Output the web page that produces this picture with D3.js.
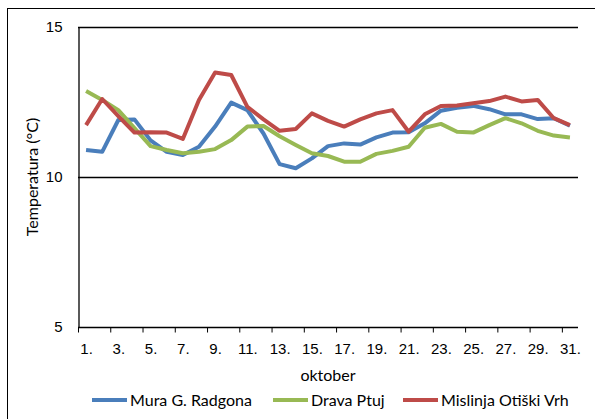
<!DOCTYPE html>
<html>
<head>
<meta charset="utf-8">
<script src="https://cdn.jsdelivr.net/npm/d3@7"></script>
<style>
  body { margin: 0; background: #fff; }
  svg { display: block; font-family: Lato, "Open Sans", sans-serif; }
</style>
</head>
<body>
<script>
"use strict"

/* dnevi v oktobru */
const dnevi = d3.range(1, 32);
/* povprečne dnevne temperature (°C) */
const mura = [10.9, 10.84, 11.9, 11.92, 11.22, 10.84, 10.73, 11.01, 11.68, 12.48,
    12.23, 11.45, 10.43, 10.29, 10.62, 11.03, 11.12, 11.08, 11.32, 11.48,
    11.49, 11.79, 12.21, 12.31, 12.37, 12.26, 12.09, 12.09, 11.93, 11.96, 11.71];
const drava = [12.87, 12.57, 12.23, 11.63, 11.03, 10.9, 10.79, 10.84, 10.93, 11.23,
    11.68, 11.7, 11.36, 11.07, 10.79, 10.7, 10.51, 10.51, 10.77, 10.87,
    11.01, 11.64, 11.77, 11.51, 11.48, 11.73, 11.96, 11.79, 11.54, 11.38, 11.32];
const mislinja = [11.73, 12.6, 12.03, 11.48, 11.49, 11.48, 11.27, 12.57, 13.48, 13.4,
    12.34, 11.92, 11.54, 11.6, 12.12, 11.87, 11.68, 11.92, 12.12, 12.23,
    11.51, 12.09, 12.37, 12.38, 12.46, 12.53, 12.68, 12.52, 12.57, 11.96, 11.73];
const imenaSerij = ["Mura G. Radgona", "Drava Ptuj", "Mislinja Otiški Vrh"];
const barve = ["#4a7ebb", "#98b954", "#be4b48"];
const yTicks = [5, 10, 15];

const serije = [mura, drava, mislinja].map(function (v, i) {
    return { ime: imenaSerij[i], barva: barve[i], vrednosti: v };
});

const grafico = { larghezza: 595, altezza: 419 };
const plot = { levo: 78, desno: 578, zgoraj: 27, spodaj: 327 };

const svg = d3.select("body").append("svg")
    .attr("width", grafico.larghezza)
    .attr("height", grafico.altezza);

/* okvir grafa */
svg.append("rect")
    .attr("x", 7.5).attr("y", 8.5)
    .attr("width", 620).attr("height", 440)
    .attr("fill", "none").attr("stroke", "#000").attr("stroke-width", 1);

const x = d3.scaleLinear().domain([0.5, 31.5]).range([plot.levo, plot.desno]);
const y = d3.scaleLinear().domain([5, 15]).range([plot.spodaj, plot.zgoraj]);

/* mreža */
svg.append("g").selectAll("line")
    .data(yTicks.filter(function (d) { return d > 5 }))
    .enter().append("line")
    .attr("x1", plot.levo).attr("x2", plot.desno)
    .attr("y1", function (d) { return Math.round(y(d)) + 0.5 })
    .attr("y2", function (d) { return Math.round(y(d)) + 0.5 })
    .attr("stroke", "#000").attr("stroke-width", 1.3);

/* os y */
const osY = svg.append("g")
    .attr("transform", "translate(" + (plot.levo + 0.5) + ",0)")
    .call(d3.axisLeft(y).tickValues(yTicks).tickSize(0).tickPadding(16));
osY.select(".domain").attr("stroke", "#000").attr("stroke-width", 1.3);
osY.selectAll("text").attr("font-size", 15).attr("fill", "#000");

/* os x: črtice na mejah kategorij */
const osX = svg.append("g")
    .attr("transform", "translate(0," + (plot.spodaj + 0.5) + ")")
    .call(d3.axisBottom(x).tickValues(d3.range(0.5, 31, 2)).tickSize(5).tickFormat(""));
osX.select(".domain").attr("stroke", "#000").attr("stroke-width", 1.3)
    .attr("d", "M" + plot.levo + ",0H" + plot.desno);
osX.selectAll(".tick line").attr("stroke", "#000");

const oznakeX = svg.append("g")
    .attr("transform", "translate(0," + (plot.spodaj + 0.5) + ")")
    .call(d3.axisBottom(x).tickValues(dnevi.filter(function (d) { return d % 2 == 1 }))
        .tickSize(0).tickPadding(16).tickFormat(function (d) { return d + "." }));
oznakeX.select(".domain").remove();
oznakeX.selectAll("text").attr("font-size", 15).attr("fill", "#000");

/* naslova osi */
svg.append("text")
    .attr("transform", "translate(38," + y(10) + ") rotate(-90)")
    .attr("text-anchor", "middle")
    .attr("font-size", 16)
    .text("Temperatura (°C)");
svg.append("text")
    .attr("x", (plot.levo + plot.desno) / 2)
    .attr("y", 381)
    .attr("text-anchor", "middle")
    .attr("font-size", 16)
    .text("oktober");

/* črte */
const crta = d3.line()
    .x(function (d, i) { return x(dnevi[i]) })
    .y(function (d) { return y(d) });

svg.append("g").selectAll("path")
    .data(serije)
    .enter().append("path")
    .attr("d", function (d) { return crta(d.vrednosti) })
    .attr("fill", "none")
    .attr("stroke", function (d) { return d.barva })
    .attr("stroke-width", 4)
    .attr("stroke-linejoin", "round");

/* legenda */
const legendaX = [92, 273, 403];
const legenda = svg.append("g").selectAll("g")
    .data(serije)
    .enter().append("g")
    .attr("transform", function (d, i) { return "translate(" + legendaX[i] + ",400)" });
legenda.append("line")
    .attr("x1", 0).attr("x2", 35)
    .attr("stroke", function (d) { return d.barva })
    .attr("stroke-width", 4);
legenda.append("text")
    .attr("x", 38).attr("dy", "0.35em")
    .attr("font-size", 16)
    .text(function (d) { return d.ime });
</script>
</body>
</html>
